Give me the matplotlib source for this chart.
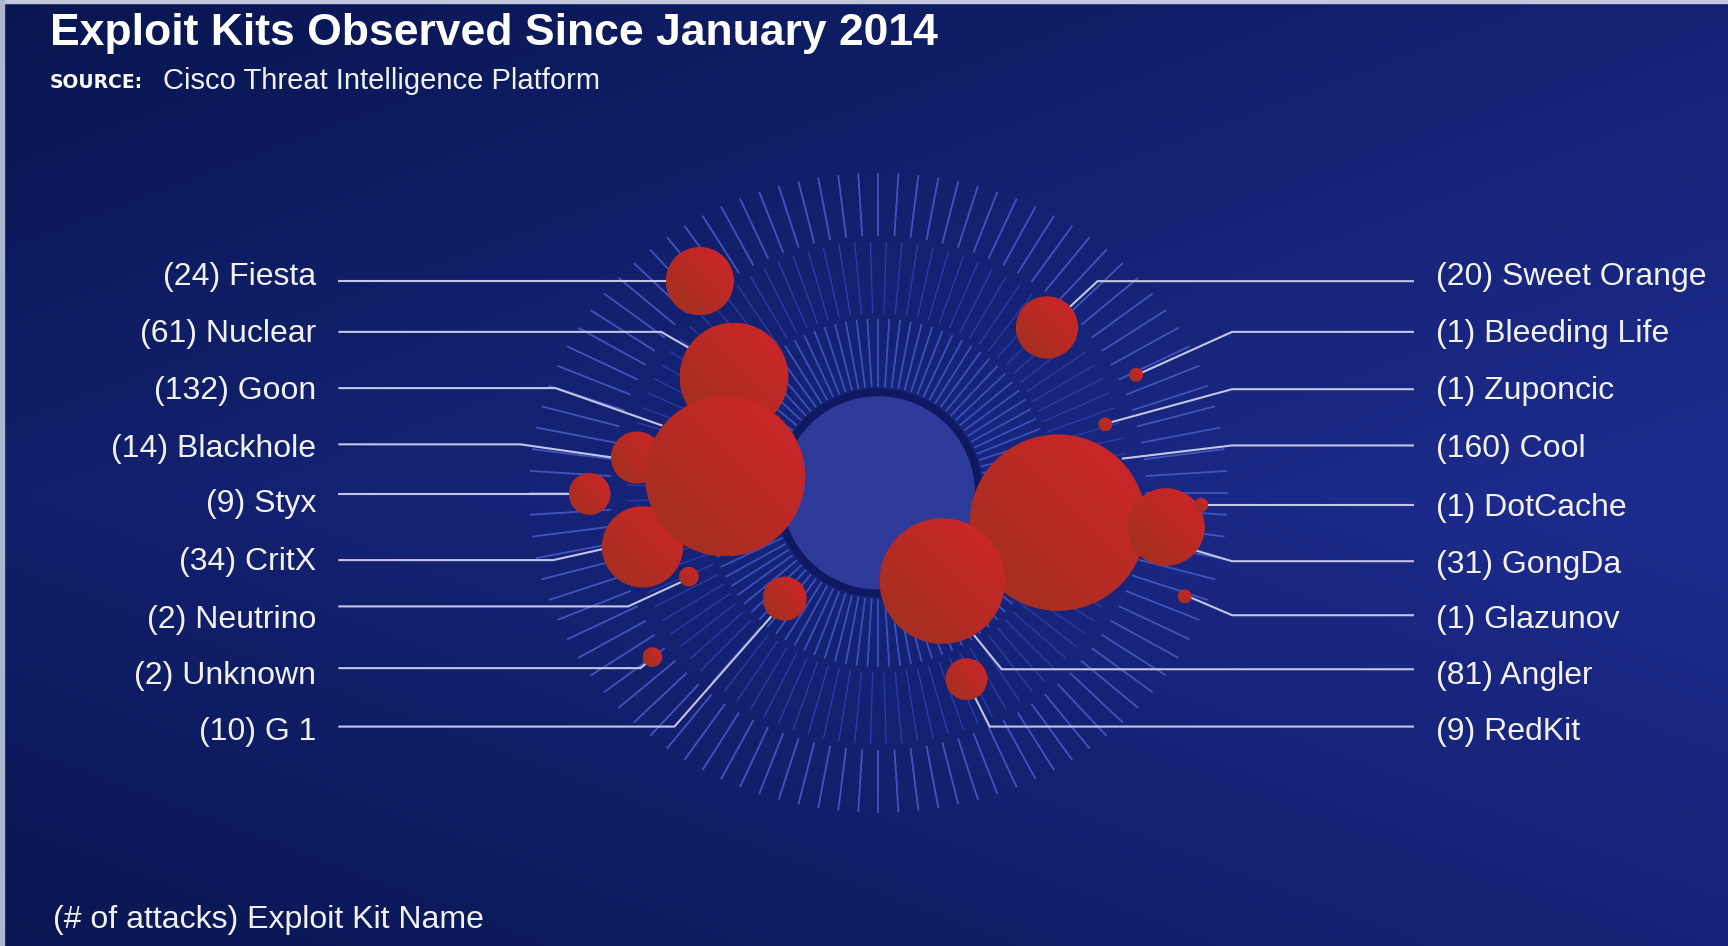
import numpy as np
import matplotlib
matplotlib.use("Agg")
import matplotlib.pyplot as plt
from matplotlib.patches import Circle, Rectangle
from matplotlib.collections import LineCollection

# canvas units = pixels of the reference (shown at 1568 x 858)
W, H = 1568, 858

# data: (# of attacks) exploit kit name
kits_left = ["Fiesta", "Nuclear", "Goon", "Blackhole", "Styx", "CritX", "Neutrino", "Unknown", "G 1"]
attacks_left = [24, 61, 132, 14, 9, 34, 2, 2, 10]
kits_right = ["Sweet Orange", "Bleeding Life", "Zuponcic", "Cool", "DotCache", "GongDa", "Glazunov", "Angler", "RedKit"]
attacks_right = [20, 1, 1, 160, 1, 31, 1, 81, 9]

# layout of the bubble cluster (centres only, sizes come from the counts)
pos_left = [(635, 255), (666, 342), (658, 432), (578, 415), (535, 448),
            (583, 496), (625, 523), (592, 596), (712, 543)]
pos_right = [(950, 297), (1031, 340), (1003, 385), (960, 474), (1090, 458),
             (1058, 478), (1075, 541), (855, 527), (877, 616)]

# leader lines: (y of the horizontal part, x of the bend or None, end point)
lead_left = [(255, None, (606, 255)), (301, 600, (626, 316)), (352, 504, (601, 386)),
             (403, 472, (556, 415)), (448, None, (516, 448)), (508, 502, (547, 498)),
             (550, 570, (620, 527)), (606, 581, (590, 599)), (659, 612, (700, 559))]
lead_right = [(255, 996, (970, 279)), (301, 1118, (1036, 338)), (353, 1118, (1008, 383)),
              (404, 1118, (1018, 416)), (458, None, (1093, 458)), (509, 1118, (1084, 499)),
              (558, 1118, (1076, 540)), (607, 909, (883, 575)), (659, 898, (885, 633))]
text_y_left = [251, 303, 355, 407, 457, 510, 562, 613, 664]
text_y_right = [251, 303, 355, 407, 461, 512, 562, 613, 664]

draw_order = ["Nuclear", "Blackhole", "CritX", "Goon", "Fiesta", "Styx", "Neutrino", "Unknown",
              "G 1", "Sweet Orange", "Bleeding Life", "Zuponcic", "Cool", "GongDa", "DotCache",
              "Glazunov", "Angler", "RedKit"]

CENTER = (797, 447)
R_MAX = 80          # radius of the largest bubble
FONT = "Liberation Sans"
TXT = "#f2f3f8"


def background(ax):
    xs = np.linspace(0, W, 400)
    ys = np.linspace(0, H, 220)
    X, Y = np.meshgrid(xs, ys)
    t = 0.55 * X / W + 0.45 * np.clip(1 - np.abs(Y - 450) / 480, 0, 1)
    dark = np.array([7, 21, 78]) / 255
    bright = np.array([30, 44, 144]) / 255
    img = dark + t[..., None] * (bright - dark)
    ax.imshow(img, extent=[0, W, H, 0], origin="upper", aspect="auto",
              interpolation="bilinear", zorder=0)
    # thin light frame of the original screenshot
    ax.add_patch(Rectangle((0, 0), W, 3, color="#c3c8dc", zorder=10))
    ax.add_patch(Rectangle((0, 0), 4, H, color="#aeb5d0", zorder=10))


def sunburst(ax):
    cx, cy = CENTER
    ang = np.deg2rad(np.arange(0, 360, 3.6))
    bands = [
        (96, 0, 158, 0, "#3d50b9", 1.3, 0.0),
        (163, 0, 228, 0, "#2b3ba4", 1.0, 1.8),
        (233, 10, 290, 27, "#4254bc", 1.3, 0.0),
    ]
    for r0, s0, r1, s1, col, lw, off in bands:
        a = ang + np.deg2rad(off)
        c2 = np.cos(a) ** 2
        ra = r0 + s0 * c2
        rb = r1 + s1 * c2
        segs = [[(cx + p * np.cos(q), cy - p * np.sin(q)), (cx + e * np.cos(q), cy - e * np.sin(q))]
                for q, p, e in zip(a, ra, rb)]
        ax.add_collection(LineCollection(segs, colors=col, linewidths=lw, zorder=1,
                                         capstyle="butt"))
    ax.add_patch(Circle(CENTER, 94, color="#0e1962", zorder=3))
    ax.add_patch(Circle(CENTER, 87, color="#2f3b9b", zorder=3))


def bubble(ax, x, y, r, z):
    circ = Circle((x, y), r, facecolor="none", edgecolor="none", zorder=z)
    ax.add_patch(circ)
    u = np.linspace(-1, 1, 48)
    U, V = np.meshgrid(u, u)
    t = np.clip(0.5 + 0.3 * (U - V), 0, 1)
    lo = np.array([163, 48, 32]) / 255
    hi = np.array([204, 38, 42]) / 255
    img = lo + t[..., None] * (hi - lo)
    im = ax.imshow(img, extent=[x - r, x + r, y + r, y - r], origin="upper",
                   aspect="auto", interpolation="bilinear", zorder=z)
    im.set_clip_path(circ)


def leaders(ax, leads, x_start):
    for y, bend, (ex, ey) in leads:
        if bend is None:
            xs, ys = [x_start, ex], [y, ey]
        else:
            xs, ys = [x_start, bend, ex], [y, y, ey]
        ax.plot(xs, ys, color="#c3c7e6", lw=1.5, zorder=2, solid_capstyle="butt")


def main():
    fig = plt.figure(figsize=(17.28, 9.46), dpi=100)
    ax = fig.add_axes([0, 0, 1, 1])
    background(ax)
    sunburst(ax)

    leaders(ax, lead_left, 307)
    leaders(ax, lead_right, 1283)

    all_kits = kits_left + kits_right
    all_counts = attacks_left + attacks_right
    all_pos = pos_left + pos_right
    top = max(all_counts)
    for z, name in enumerate(draw_order):
        i = all_kits.index(name)
        r = R_MAX * np.sqrt(all_counts[i] / top)
        bubble(ax, all_pos[i][0], all_pos[i][1], r, 4 + z * 0.01)

    for name, n, ty in zip(kits_left, attacks_left, text_y_left):
        ax.text(287, ty, f"({n}) {name}", ha="right", va="center", color=TXT,
                fontsize=23, family=FONT, zorder=6)
    for name, n, ty in zip(kits_right, attacks_right, text_y_right):
        ax.text(1303, ty, f"({n}) {name}", ha="left", va="center", color=TXT,
                fontsize=23, family=FONT, zorder=6)

    ax.text(45, 41, "Exploit Kits Observed Since January 2014", ha="left", va="baseline",
            color="white", fontsize=32, fontweight="bold", family=FONT, zorder=6)
    ax.text(45, 80, "SOURCE:", ha="left", va="baseline", color="white", fontsize=13.5,
            fontweight="bold", family="DejaVu Sans", zorder=6)
    ax.text(148, 81, "Cisco Threat Intelligence Platform", ha="left", va="baseline",
            color=TXT, fontsize=21, family=FONT, zorder=6)
    ax.text(48, 842, "(# of attacks) Exploit Kit Name", ha="left", va="baseline",
            color=TXT, fontsize=23, family=FONT, zorder=6)

    ax.set_xlim(0, W)
    ax.set_ylim(H, 0)
    ax.axis("off")
    fig.savefig("out.png", dpi=100)


if __name__ == "__main__":
    main()
